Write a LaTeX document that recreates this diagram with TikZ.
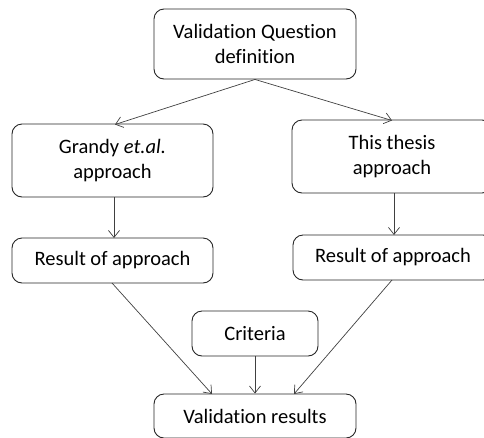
\documentclass[tikz,border=0pt]{standalone}
\usepackage{fontspec}
\setmainfont{Carlito}[Ligatures=NoCommon]
\usetikzlibrary{arrows.meta}
\begin{document}
\begin{tikzpicture}[x=1pt,y=-1pt,
  box/.style={draw=black!85, line width=0.9pt, rounded corners=10pt, fill=white,
    align=center, inner sep=0pt, font=\fontsize{20.5}{24.5}\selectfont, text=black},
  link/.style={draw=black!75, line width=0.7pt, -{Straight Barb[length=7pt,width=11pt,line width=0.7pt]}}]
\useasboundingbox (0,0) rectangle (484,437);
\node[box, minimum width=202pt, minimum height=70pt] (q) at (255,44) {Validation Question\\definition};
\node[box, minimum width=201pt, minimum height=73pt] (g) at (112.5,160.5) {Grandy \textit{et.al.}\\approach};
\node[box, minimum width=200pt, minimum height=73pt] (t) at (392,156.5) {This thesis\\approach};
\node[box, minimum width=201pt, minimum height=45pt] (rg) at (112.5,260.5) {Result of approach};
\node[box, minimum width=200pt, minimum height=45pt] (rt) at (393,257.5) {Result of approach};
\node[box, minimum width=126pt, minimum height=45pt] (c) at (255,333.5) {Criteria};
\node[box, minimum width=202pt, minimum height=44pt] (v) at (255,416) {Validation results};
\draw[link] (q.south) -- (115,124.5);
\draw[link] (q.south) -- (392,120.5);
\draw[link] (114,197) -- (114,238);
\draw[link] (394,193) -- (394,235);
\draw[link] (112,283) -- (212,394);
\draw[link] (c.south) -- (c.south |- v.north);
\draw[link] (392,280) -- (294,394);
\end{tikzpicture}
\end{document}
